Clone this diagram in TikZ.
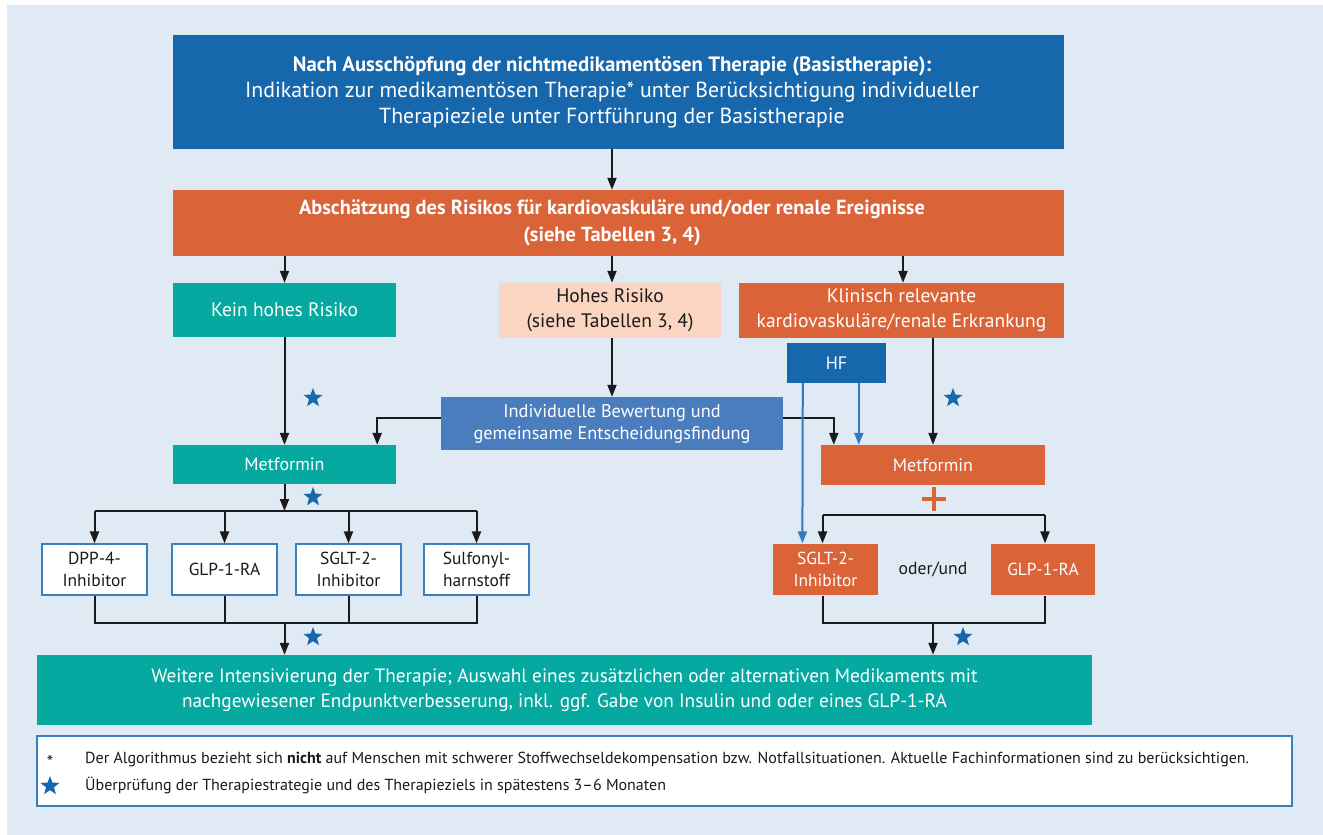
\documentclass[tikz,border=0pt]{standalone}
\usepackage{fontspec}
\setmainfont{PT Sans}
\usetikzlibrary{arrows.meta,shapes.geometric,calc}
\definecolor{bgc}{HTML}{E0EAF4}
\definecolor{dblue}{HTML}{1767AC}
\definecolor{orng}{HTML}{DB6338}
\definecolor{teal2}{HTML}{05A9A0}
\definecolor{peach}{HTML}{FBD5C2}
\definecolor{mblue}{HTML}{4A7DBE}
\definecolor{bord}{HTML}{3A7FC0}
\definecolor{hfline}{HTML}{2F7BC0}
\definecolor{ink}{HTML}{1A1A1A}
\begin{document}
\begin{tikzpicture}[x=1pt,y=-1pt,
  box/.style={rectangle,inner sep=0pt,align=center,text=white,font=\fontsize{19.5}{25}\selectfont},
  smallbox/.style={rectangle,inner sep=0pt,align=center,fill=white,draw=bord,line width=1.2pt,text=ink,font=\fontsize{17.4}{22}\selectfont,minimum width=105pt,minimum height=51pt},
  arr/.style={draw=ink,line width=2pt,-{Triangle[length=12pt,width=9pt]}},
  ln/.style={draw=ink,line width=2pt},
  harr/.style={draw=hfline,line width=2pt,-{Triangle[length=12pt,width=9pt]}},
  rstar/.style={star,star points=5,star point ratio=2.4,fill=dblue,inner sep=0pt,minimum size=20pt}]
\useasboundingbox (0,0) rectangle (1323,835);
\fill[bgc] (7,5) rectangle (1323,835);
% boxes
\node[box,fill=dblue,minimum width=891pt,minimum height=114pt,font=\fontsize{21.8}{26}\selectfont] (top) at (618.5,92)
 {\hspace*{-13pt}{\fontsize{20.8}{26}\selectfont\textbf{Nach Ausschöpfung der nichtmedikamentösen Therapie (Basistherapie):}}\\\hspace*{-13pt}Indikation zur medikamentösen Therapie* unter Berücksichtigung individueller\\\hspace*{-13pt}Therapieziele unter Fortführung der Basistherapie};
\node[box,fill=orng,minimum width=891pt,minimum height=66pt,font=\fontsize{20.4}{27}\selectfont\bfseries] (risk) at (618.5,223)
 {\hspace*{-13pt}Abschätzung des Risikos für kardiovaskuläre und/oder renale Ereignisse\\\hspace*{-13pt}(siehe Tabellen 3, 4)};
\node[box,fill=teal2,minimum width=223pt,minimum height=54pt] (kein) at (284.5,310) {Kein hohes Risiko};
\node[box,fill=peach,text=ink,minimum width=222pt,minimum height=55pt] (hohes) at (610,310.5) {Hohes Risiko\\(siehe Tabellen 3, 4)};
\node[box,fill=orng,minimum width=325pt,minimum height=55pt] (klin) at (901.5,310.5) {Klinisch relevante\\kardiovaskuläre/renale Erkrankung};
\node[box,fill=dblue,minimum width=99pt,minimum height=40pt,font=\fontsize{18}{20}\selectfont] (hf) at (836.5,363) {HF};
\node[box,fill=mblue,minimum width=342pt,minimum height=53pt,font=\fontsize{18.3}{22}\selectfont] (indiv) at (612,423.5) {Individuelle Bewertung und\\gemeinsame Entscheidungsfindung};
\node[box,fill=teal2,minimum width=223pt,minimum height=39pt,font=\fontsize{18}{20}\selectfont] (metL) at (284.5,464.5) {Metformin};
\node[box,fill=orng,minimum width=224pt,minimum height=40pt,font=\fontsize{18}{20}\selectfont] (metR) at (933,465) {Metformin};
\node[smallbox] (dpp) at (94.5,569.5) {DPP-4-\\Inhibitor};
\node[smallbox] (glpL) at (224.5,569.5) {GLP-1-RA};
\node[smallbox] (sgltL) at (348.5,569.5) {SGLT-2-\\Inhibitor};
\node[smallbox] (sulf) at (476.5,569.5) {Sulfonyl-\\harnstoff};
\node[smallbox,fill=orng,draw=none,text=white] (sgltR) at (825.5,569.5) {SGLT-2-\\Inhibitor};
\node[smallbox,fill=orng,draw=none,text=white,minimum width=104pt] (glpR) at (1043,569.5) {GLP-1-RA};
\node[text=ink,font=\fontsize{17.6}{20}\selectfont,inner sep=0pt] (oder) at (933,569) {oder/und};
\node[box,fill=teal2,minimum width=1055pt,minimum height=70pt,font=\fontsize{19.3}{25}\selectfont] (final) at (564.5,690)
 {Weitere Intensivierung der Therapie; Auswahl eines zusätzlichen oder alternativen Medikaments mit\\nachgewiesener Endpunktverbesserung, inkl. ggf. Gabe von Insulin und oder eines GLP-1-RA};
% legend
\node[rectangle,fill=white,draw=bord,line width=1.2pt,minimum width=1255pt,minimum height=70pt,inner sep=0pt] (legend) at (664.5,771) {};
\node[text=ink,font=\fontsize{18}{18}\selectfont,inner sep=0pt] (ast) at (50,762) {*};
\node[anchor=west,text=ink,font=\fontsize{16}{18}\selectfont,inner sep=0pt] (l1) at (85,759) {Der Algorithmus bezieht sich \textbf{nicht} auf Menschen mit schwerer Stoffwechseldekompensation bzw. Notfallsituationen. Aktuelle Fachinformationen sind zu berücksichtigen.};
\node[rstar] (ls) at (50,786) {};
\node[anchor=west,text=ink,font=\fontsize{16}{18}\selectfont,inner sep=0pt] (l2) at (85,785) {Überprüfung der Therapiestrategie und des Therapieziels in spätestens 3–6 Monaten};
% coordinates
\coordinate (bl) at (284.5,511);
\coordinate (ml) at (284.5,623);
\coordinate (br) at (933,515);
\coordinate (mr) at (933,623);
% connectors
\draw[arr] (top.south -| indiv.center) -- (risk.north -| indiv.center);
\draw[arr] (risk.south -| kein.center) -- (kein.north);
\draw[arr] (risk.south -| indiv.center) -- (hohes.north -| indiv.center);
\draw[arr] ($(risk.south -| klin.center)+(1.5,0)$) -- ($(klin.north)+(1.5,0)$);
\draw[arr] (kein.south) -- (metL.north);
\draw[arr] (hohes.south -| indiv.center) -- (indiv.north);
\draw[arr] ($(indiv.west)+(0,-6)$) -| ($(metL.north east)+(-19,0)$);
\draw[arr] ($(indiv.east)+(0,-6)$) -| ($(metR.north west)+(13,0)$);
\draw[harr] ($(hf.south west)+(16,0)$) -- ($(sgltR.north west)+(30,0)$);
\draw[harr] ($(hf.south west)+(72,0)$) -- ($(metR.north west)+(38,0)$);
\draw[arr] (klin.south -| metR.center) -- (metR.north);
% left branch
\draw[arr] (metL.south) -- (bl);
\draw[ln] (dpp.north |- bl) -- (sulf.north |- bl);
\foreach \n in {dpp,glpL,sgltL,sulf} \draw[arr] (\n.north |- bl) -- (\n.north);
\draw[ln] (dpp.south) |- (ml) -| (sulf.south);
\draw[ln] (glpL.south) -- (glpL.south |- ml);
\draw[ln] (sgltL.south) -- (sgltL.south |- ml);
\draw[arr] (ml) -- (final.north -| ml);
% right branch
\draw[line width=4.5pt,draw=orng] (922,499) -- (946,499) (934,487) -- (934,511);
\draw[ln] ($(sgltR.north |- br)+(-3,0)$) -- ($(glpR.north |- br)+(2,0)$);
\draw[arr] ($(sgltR.north |- br)+(-3,0)$) -- ($(sgltR.north)+(-3,0)$);
\draw[arr] ($(glpR.north |- br)+(2,0)$) -- ($(glpR.north)+(2,0)$);
\draw[ln] ($(sgltR.south)+(-3,0)$) |- (mr) -| ($(glpR.south)+(2,0)$);
\draw[arr] (mr) -- (final.north -| mr);
% stars
\node[rstar] (s1) at (313,398) {};
\node[rstar] (s2) at (313,497) {};
\node[rstar] (s3) at (313,637) {};
\node[rstar] (s4) at (953,398) {};
\node[rstar] (s5) at (963,637) {};
\end{tikzpicture}
\end{document}
